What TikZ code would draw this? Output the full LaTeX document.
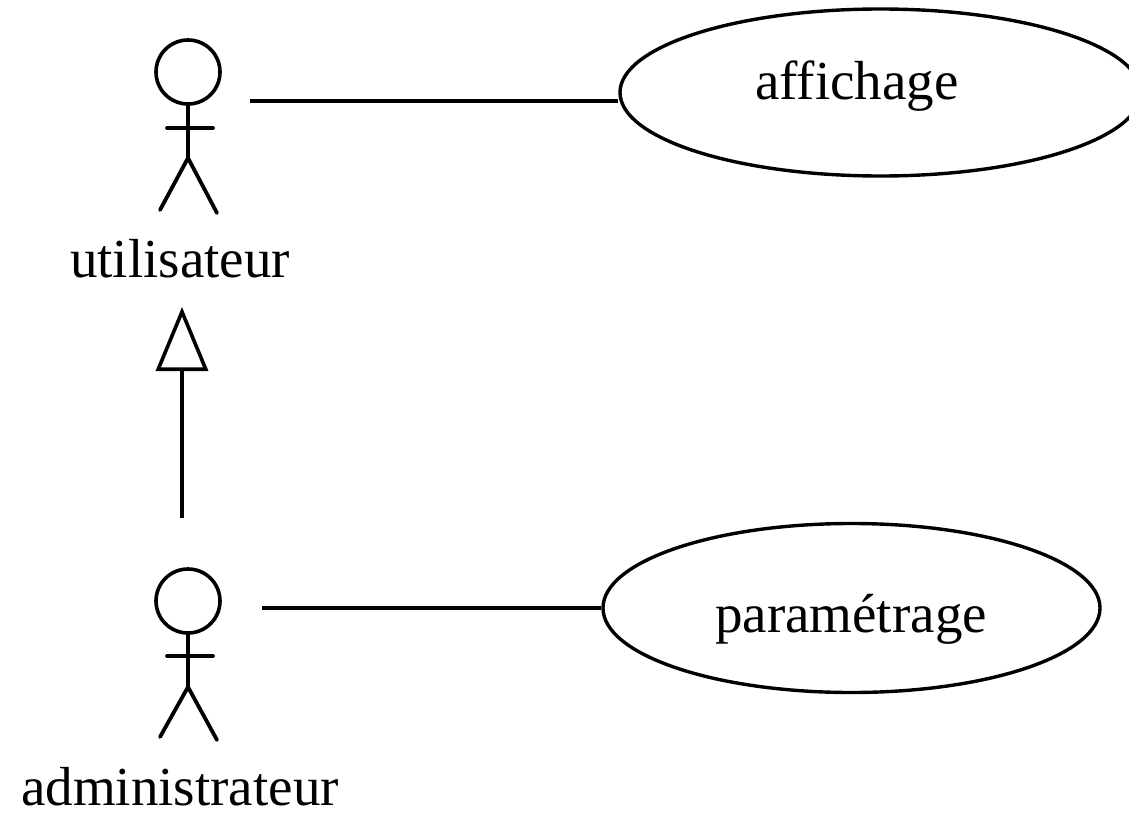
\documentclass[tikz,border=0pt]{standalone}
\usepackage{fontspec}
\setmainfont{Liberation Serif}
\usetikzlibrary{arrows.meta,shapes.geometric}
\begin{document}
\begin{tikzpicture}[x=1bp,y=-1bp,
  stroke/.style={line width=3.8bp,line cap=round,line join=round},
  usecase/.style={draw,ellipse,line width=3.4bp,inner sep=0pt},
  lbl/.style={font=\fontsize{55bp}{60bp}\selectfont,inner sep=0pt,anchor=base},
  head/.style={draw,circle,line width=3.6bp,inner sep=0pt,minimum size=64bp}]
\useasboundingbox (0,0) rectangle (1129,815);
\clip (0,0) rectangle (1129,815);
% actor 1
\node[head] (h1) at (188,72) {};
\draw[stroke] (h1.south) -- (188,158) coordinate (hip1);
\draw[stroke] (167,128) -- (213,128);
\draw[stroke] (160,210) -- (hip1) -- (217,213);
\node[lbl] (t1) at (180,277) {utilisateur};
% actor 2
\node[head] (h2) at (188,601) {};
\draw[stroke] (h2.south) -- (188,687) coordinate (hip2);
\draw[stroke] (167,656) -- (213,656);
\draw[stroke] (160,737) -- (hip2) -- (217,740);
\node[lbl] (t2) at (180,805) {administrateur};
% use cases
\node[usecase,minimum width=521bp,minimum height=167bp] (uc1) at (880.5,92.5) {};
\node[lbl] (l1) at (857,100) {affichage};
\node[usecase,minimum width=497bp,minimum height=169bp] (uc2) at (851.5,608) {};
\node[lbl] (l2) at (851,632) {paramétrage};
% associations
\coordinate (a1) at (250,101);
\coordinate (a2) at (262,608);
\draw[stroke,line cap=butt] (a1) -- (a1 -| uc1.west);
\draw[stroke,line cap=butt] (a2) -- (uc2.west);
% generalization
\coordinate (g1) at (182,518);
\coordinate (g2) at (182,307);
\draw[line width=3.6bp,-{Triangle[open,length=64bp,width=52bp,line join=miter]}] (g1) -- (g2);
\end{tikzpicture}
\end{document}
